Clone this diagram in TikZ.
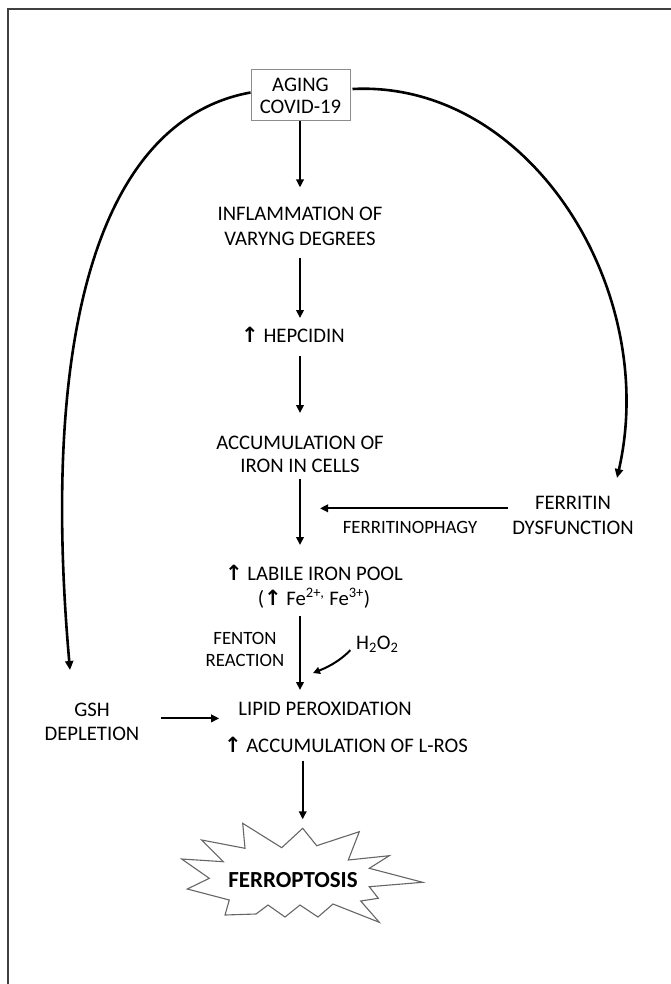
\documentclass[tikz,border=0pt]{standalone}
\usepackage{fontspec}
\setmainfont{Carlito}
\newfontfamily\arrfont{DejaVu Sans}
\usetikzlibrary{arrows.meta}
\newcommand{\upar}{{\arrfont\bfseries\fontsize{21}{21}\selectfont\smash{\raisebox{-0.5pt}{↑}}}}
\begin{document}
\begin{tikzpicture}[x=1pt,y=-1pt,
  txt/.style={inner sep=0pt, align=center, text=black, font=\fontsize{20.7}{25}\selectfont},
  smalltxt/.style={inner sep=0pt, align=center, text=black, font=\fontsize{18.8}{22}\selectfont},
  arr/.style={line width=2.2pt, -{Triangle[length=8pt,width=7.5pt]}},
  curv/.style={line width=2.6pt, -{Triangle[length=9pt,width=8pt]}},
]
\useasboundingbox (0,0) rectangle (671,984);
\draw[line width=1.6pt, black!75] (671,9) -- (8,9) -- (8,984);
\coordinate (col) at (300,0);

% nodes
\node[txt, font=\fontsize{20.7}{22}\selectfont, draw=black!45, line width=1pt,
      minimum width=99pt, minimum height=51pt] (src) at (300.5,95.5) {AGING\\COVID-19};
\node[txt, anchor=north] (infl) at (300,206.4) {INFLAMMATION OF\\VARYNG DEGREES};
\node[txt, anchor=north] (hep) at (293,328.4) {\upar\ HEPCIDIN};
\node[txt, anchor=north, font=\fontsize{20.7}{23}\selectfont] (acc) at (300,435.4) {ACCUMULATION OF\\IRON IN CELLS};
\node[txt, anchor=north] (ferr) at (573,496.4) {FERRITIN\\DYSFUNCTION};
\node[smalltxt] (phagy) at (410,527) {FERRITINOPHAGY};
\node[txt, anchor=north] (lab) at (314,566.4) {\upar\ LABILE IRON POOL\\(\upar\ Fe\textsuperscript{2+,} Fe\textsuperscript{3+})};
\node[smalltxt, anchor=north] (fent) at (245,632) {FENTON\\REACTION};
\node[txt, anchor=base west] (h2o) at (356,649.6) {H\textsubscript{2}O\textsubscript{2}};
\node[txt, anchor=north] (lip) at (325,701.4) {LIPID PEROXIDATION};
\node[txt, anchor=north, font=\fontsize{20.7}{24}\selectfont] (gsh) at (92,702.4) {GSH\\DEPLETION};
\node[txt, anchor=north] (lros) at (346,738.4) {\upar\ ACCUMULATION OF L-ROS};
\coordinate (hend) at (313,673);

% starburst
\draw[black!60, line width=1.1pt, fill=white]
  (302.7,828.3) -- (316.7,845.7) -- (359.3,831.7) -- (348.3,860) -- (389.3,855.7)
  -- (369.3,868.3) -- (422.7,882.3) -- (369.3,886.7) -- (378.3,898.3) -- (360.7,901)
  -- (379.3,922.3) -- (333,904) -- (318,917) -- (300,905) -- (285,917) -- (268,905)
  -- (256,914) -- (225,915) -- (229.3,900) -- (187.3,889) -- (209.3,878.3)
  -- (181.7,859) -- (223.3,861.7) -- (201.7,840) -- (245,848.3) -- (242.7,823.3)
  -- (281.7,847.7) -- cycle;
\coordinate (startop) at (302.7,828.3);
\node[inner sep=0pt, font=\fontsize{23}{23}\selectfont\bfseries] (ferro) at (293,880) {FERROPTOSIS};

% main column arrows
\draw[arr, shorten >=19pt] (src.south -| col) -- (infl.north -| col);
\draw[arr, shorten <=12.3pt, shorten >=10.4pt] (infl.south -| col) -- (hep.north -| col);
\draw[arr, shorten <=13.3pt, shorten >=22.4pt] (hep.south -| col) -- (acc.north -| col);
\draw[arr, shorten <=6.3pt, shorten >=21.4pt] (acc.south -| col) -- (lab.north -| col);
\draw[arr, shorten <=8.3pt, shorten >=11.4pt] (lab.south -| col) -- (lip.north -| col);
\draw[arr, shorten <=8.3pt, shorten >=9pt] (lros.south -| startop) -- (startop);

% side arrows
\draw[arr, shorten <=4.5pt, shorten >=20pt] ([shift={(0,-7.5)}]ferr.west) -- ([shift={(0,-7.5)}]ferr.west -| col);
\draw[arr, shorten <=21.5pt, shorten >=19pt] ([shift={(0,-3)}]gsh.east) -- ([shift={(0,-3)}]gsh.east -| lip.west);
\draw[line width=2pt, -{Triangle[length=7pt,width=7pt]}, shorten <=8pt] (h2o.west) to[bend left=12] (hend);

% long curves
\draw[curv] ([shift={(2,-6.5)}]src.east) .. controls (530,80) and (660,290) .. ([shift={(44,-18.4)}]ferr.north);
\draw[curv] ([shift={(0,-3)}]src.west) .. controls (100,120) and (40,330) .. ([shift={(-22,-32.4)}]gsh.north);
\end{tikzpicture}
\end{document}
